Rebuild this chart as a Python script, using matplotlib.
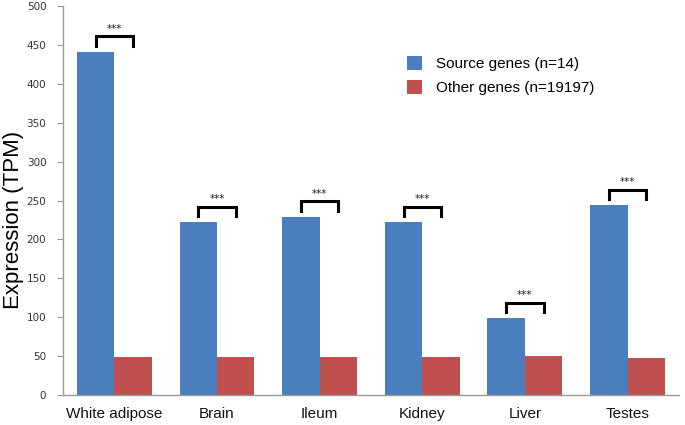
import numpy as np
import matplotlib
matplotlib.use('Agg')
import matplotlib.pyplot as plt

tissues = ['White adipose', 'Brain', 'Ileum', 'Kidney', 'Liver', 'Testes']
source = [441, 222, 229, 222, 98.5, 244]
other = [49, 49, 49, 49, 50.5, 48]
series_names = ['Source genes (n=14)', 'Other genes (n=19197)']
stars = ['***'] * 6

blue = '#4A7EBF'
red = '#C0504D'
txt_font = ['Liberation Sans', 'DejaVu Sans']

fig = plt.figure(figsize=(6.85, 4.25), dpi=100)
ax = fig.add_axes([0.092, 0.0706, 0.899, 0.915])

x = np.arange(len(tissues))
w = 0.365
ax.bar(x - w / 2, source, w, color=blue, label=series_names[0])
ax.bar(x + w / 2, other, w, color=red, label=series_names[1])

# significance brackets
for i in range(len(tissues)):
    top = source[i] + 20
    ax.plot([x[i] - w / 2, x[i] - w / 2, x[i] + w / 2, x[i] + w / 2],
            [top - 12, top, top, top - 12], color='black', lw=2.2,
            solid_joinstyle='miter', clip_on=False)
    ax.text(x[i], top + 3, stars[i], ha='center', va='bottom',
            fontsize=7.5, color='#222222')

ax.set_xlim(-0.5, len(tissues) - 0.5)
ax.set_ylim(0, 500)
ax.set_yticks(range(0, 501, 50))
ax.set_xticks(x)
ax.set_xticklabels(tissues, family=txt_font, fontsize=11, color='#111111')
ax.tick_params(axis='x', length=0, pad=9)
ax.tick_params(axis='y', length=4, color='#999999', labelsize=7.5,
               labelcolor='#333333', pad=8)

for s in ['top', 'right']:
    ax.spines[s].set_visible(False)
for s in ['left', 'bottom']:
    ax.spines[s].set_color('#999999')
    ax.spines[s].set_linewidth(1)

ax.set_ylabel('Expression (TPM)', family=txt_font, fontsize=16)
ax.yaxis.set_label_coords(-0.063, 0.45)

leg = ax.legend(loc='upper left', bbox_to_anchor=(0.558, 0.872),
                frameon=False, prop={'family': txt_font, 'size': 11},
                handlelength=1.0, handleheight=1.0, handletextpad=0.9,
                labelspacing=0.6, borderpad=0, borderaxespad=0)

fig.savefig('out.png', dpi=100)
